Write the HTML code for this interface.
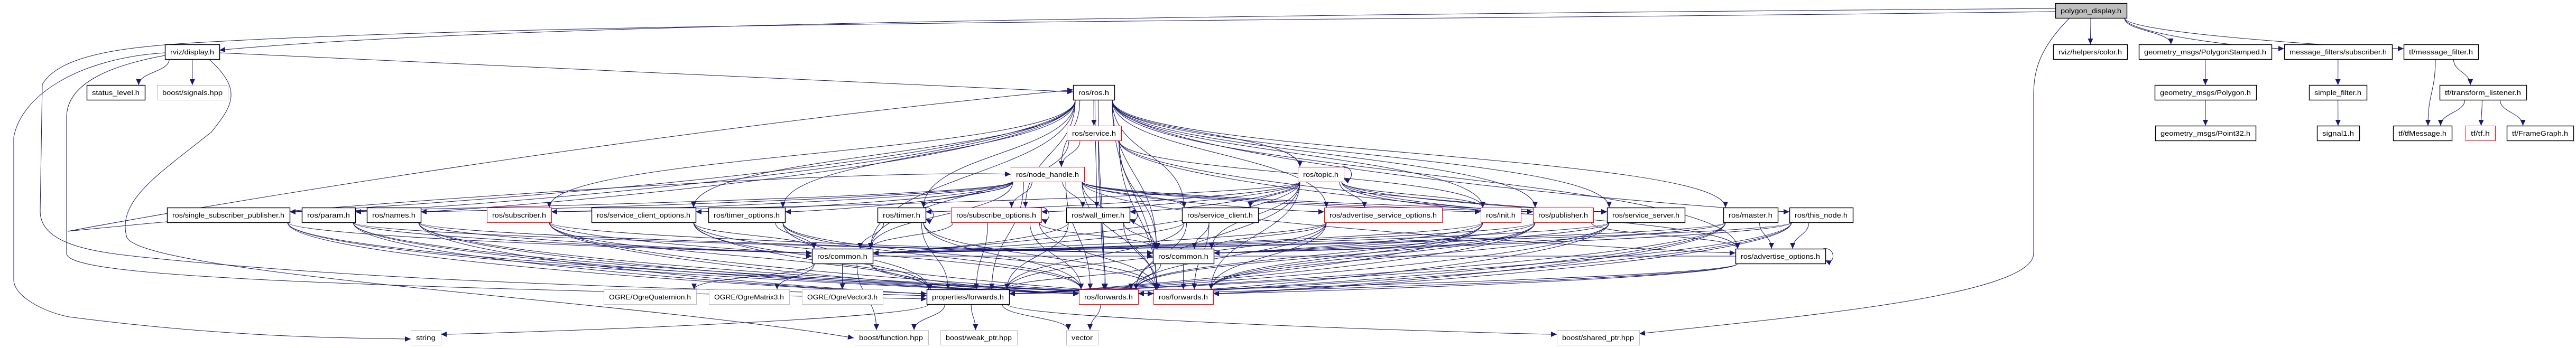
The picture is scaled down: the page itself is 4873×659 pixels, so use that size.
<!DOCTYPE html>
<html><head><meta charset="utf-8"><style>
html,body{margin:0;padding:0;background:#fff;}
svg{display:block;}
text{font-family:"Liberation Sans",sans-serif;font-size:13px;fill:#000;}
</style></head><body>
<svg id="g" xmlns="http://www.w3.org/2000/svg" width="4873" height="659" viewBox="0 0 4873 659">
<defs><marker id="a" markerWidth="12" markerHeight="10" refX="11" refY="5" orient="auto" markerUnits="userSpaceOnUse"><path d="M0,0 L11,5 L0,10 z" fill="#191970"/></marker></defs>
<g id="e" fill="none" stroke="#191970" stroke-width="1"></g>
<g id="n"></g>
</svg>
<script>
var R={A:6,B:84,C:161,D:238,E:316,F:393,G:471,H:548,I:625},H=28;
var N={
pd:['polygon_display.h',3888,4023,'A','g'],
disp:['rviz/display.h',312,415,'B','b'],
color:['rviz/helpers/color.h',3884,4024,'B','b'],
pstamp:['geometry_msgs/PolygonStamped.h',4046,4297,'B','b'],
mfsub:['message_filters/subscriber.h',4321,4525,'B','b'],
tfmf:['tf/message_filter.h',4547,4688,'B','b'],
status:['status_level.h',164,274,'C','b'],
signals:['boost/signals.hpp',297,431,'C','l'],
ros:['ros/ros.h',2030,2108,'C','b'],
poly:['geometry_msgs/Polygon.h',4076,4268,'C','b'],
sfilt:['simple_filter.h',4368,4477,'C','b'],
tl:['tf/transform_listener.h',4615,4779,'C','b'],
service:['ros/service.h',2018,2121,'D','r'],
pt32:['geometry_msgs/Point32.h',4077,4267,'D','b'],
sig1:['signal1.h',4383,4463,'D','b'],
tfmsg:['tf/tfMessage.h',4527,4638,'D','b'],
tftf:['tf/tf.h',4664,4720,'D','r'],
fg:['tf/FrameGraph.h',4742,4868,'D','b'],
nh:['ros/node_handle.h',1912,2051,'E','r'],
topic:['ros/topic.h',2455,2542,'E','r'],
ssp:['ros/single_subscriber_publisher.h',316,548,'F','b'],
param:['ros/param.h',571,672,'F','b'],
names:['ros/names.h',694,796,'F','b'],
sub:['ros/subscriber.h',921,1043,'F','r'],
sco:['ros/service_client_options.h',1119,1316,'F','b'],
to:['ros/timer_options.h',1340,1485,'F','b'],
timer:['ros/timer.h',1660,1751,'F','b'],
so:['ros/subscribe_options.h',1799,1970,'F','r'],
wt:['ros/wall_timer.h',2017,2137,'F','b'],
sc:['ros/service_client.h',2236,2380,'F','b'],
aso:['ros/advertise_service_options.h',2505,2728,'F','r'],
init:['ros/init.h',2801,2877,'F','r'],
pub:['ros/publisher.h',2900,3014,'F','r'],
ss:['ros/service_server.h',3040,3187,'F','b'],
master:['ros/master.h',3260,3363,'F','b'],
tn:['ros/this_node.h',3385,3505,'F','b'],
c1:['ros/common.h',1536,1651,'G','b'],
c2:['ros/common.h',2181,2296,'G','b'],
ao:['ros/advertise_options.h',3283,3453,'G','b'],
ogq:['OGRE/OgreQuaternion.h',1142,1317,'H','l'],
ogm:['OGRE/OgreMatrix3.h',1341,1493,'H','l'],
ogv:['OGRE/OgreVector3.h',1517,1670,'H','l'],
pf:['properties/forwards.h',1753,1909,'H','b'],
fw1:['ros/forwards.h',2041,2153,'H','r'],
fw2:['ros/forwards.h',2182,2295,'H','r'],
string:['string',777,834,'I','l'],
bfunc:['boost/function.hpp',1615,1756,'I','l'],
bweak:['boost/weak_ptr.hpp',1779,1924,'I','l'],
vector:['vector',2017,2077,'I','l'],
bshared:['boost/shared_ptr.hpp',2945,3101,'I','l']
};
var E={
pd:['color','pstamp','mfsub','tfmf'],
tfmf:['tfmsg','tl'],tl:['tfmsg','tftf','fg'],pstamp:['poly'],poly:['pt32'],mfsub:['sfilt'],sfilt:['sig1'],
disp:['status','signals'],
ros:['service','nh','topic','ssp','param','names','sub','timer','wt','sc','init','pub','ss','master','tn','c1','c2','fw1','fw2','ao','aso','so','sco','to'],
service:['nh','c2','fw1','fw2','pub','init','ss','c1'],
nh:['sub','sco','to','timer','so','wt','sc','aso','init','pub','ss','ao','c1','c2','fw1','fw2','pf','ssp','names'],
topic:['sub','timer','so','sc','init','pub','ss','ao','c1','c2','fw1','fw2','wt','aso'],
ssp:['c1','fw1','fw2','pf'],param:['c1','fw1','fw2','pf','c2'],names:['c1','fw1','fw2','pf','c2'],
sub:['c1','fw1','fw2','pf','c2'],sco:['c1','fw1','fw2','pf'],to:['c1','fw1','fw2','pf'],
timer:['c1','fw1','fw2','pf'],so:['c1','fw1','fw2','pf','c2'],wt:['c1','c2','fw1','fw2','pf'],
sc:['c1','c2','fw1','fw2','pf'],aso:['c1','c2','fw1','fw2','pf'],init:['c1','c2','fw1','fw2','pf'],
pub:['c1','c2','fw1','fw2','pf','ao'],ss:['c1','c2','fw1','fw2','pf'],master:['c1','c2','fw1','fw2','pf','ao'],
tn:['c1','c2','fw1','fw2','pf','ao'],ao:['c1','c2','fw1','fw2','pf'],
c1:['ogq','ogm','ogv','pf','bfunc','fw1'],c2:['fw1','fw2','pf'],
pf:['bfunc','bweak','bshared','string','vector'],fw1:['vector']
};
var eg=document.getElementById('e'),ng=document.getElementById('n'),NS='http://www.w3.org/2000/svg';
function P(d){var p=document.createElementNS(NS,'path');p.setAttribute('d',d);p.setAttribute('marker-end','url(#a)');eg.appendChild(p);}
function cl(v,a,b){return Math.max(a,Math.min(b,v));}
for(var s in E){E[s].forEach(function(t){
 var a=N[s],b=N[t];var sy=R[a[3]]+H,ty=R[b[3]];
 var scx=(a[1]+a[2])/2,tcx=(b[1]+b[2])/2;
 var sx=scx+cl((tcx-scx)*0.3,-(a[2]-a[1])/2+4,(a[2]-a[1])/2-4);
 var tx=tcx+cl((scx-tcx)*0.3,-(b[2]-b[1])/2+4,(b[2]-b[1])/2-4);
 var dy=ty-sy;
 if(dy<=0){P('M'+a[2]+','+(R[a[3]]+14)+' C'+(a[2]+40)+','+(R[a[3]]+14)+' '+(b[1]-40)+','+(R[b[3]]+14)+' '+b[1]+','+(R[b[3]]+14));return;}
 var dx=Math.abs(tx-sx);
 if(dx>6*dy){ // enter side
   var ex=tx<sx?b[2]:b[1],ey=ty+8;
   P('M'+sx+','+sy+' C'+sx+','+(sy+dy*0.6)+' '+(ex+(sx>ex?60:-60))+','+ey+' '+ex+','+ey);
 } else P('M'+sx+','+sy+' C'+sx+','+(sy+dy*0.5)+' '+tx+','+(ty-dy*0.5)+' '+tx+','+ty);
});}
// custom long edges
P('M3888,16 C2000,30 900,50 415,95');
P('M3888,22 C2500,40 1200,40 480,75 C300,84 120,90 80,160 L76,400 C76,470 200,480 300,490 C800,540 1400,548 1753,560');
P('M312,100 C150,110 40,180 26,260 L26,530 C26,560 80,590 130,600 C400,635 600,640 777,642');
P('M312,105 C230,120 128,150 126,220 L126,480 C126,520 500,540 1753,566');
P('M395,112 C460,170 440,200 400,250 C300,330 220,380 240,450 C280,520 1200,570 1615,640');
P('M415,100 C1200,140 1800,160 2030,174');
P('M3915,34 C3860,90 3847,130 3847,180 L3847,480 C3847,560 3400,600 3101,632');
P('M128,438 C700,380 1600,320 1912,330');
P('M128,438 C600,350 1400,230 2030,170');
// self loops
[['topic'],['timer'],['wt'],['so'],['ao']].forEach(function(k){var a=N[k[0]],y=R[a[3]];P('M'+(a[2]-4)+','+y+' C'+(a[2]+20)+','+(y-4)+' '+(a[2]+20)+','+(y+H+4)+' '+a[2]+','+(y+H-6));});
for(var k in N){var a=N[k],x=a[1],w=a[2]-a[1],y=R[a[3]];
 var r=document.createElementNS(NS,'rect');r.setAttribute('x',x+0.5);r.setAttribute('y',y+0.5);r.setAttribute('width',w);r.setAttribute('height',H);
 var st=a[4];r.setAttribute('fill',st=='g'?'#bfbfbf':'#fff');
 r.setAttribute('stroke',st=='r'?'#ff0000':st=='l'?'#bfbfbf':'#000');r.setAttribute('stroke-width',st=='b'||st=='g'?1.4:1);
 ng.appendChild(r);
 var t=document.createElementNS(NS,'text');t.setAttribute('x',x+w/2);t.setAttribute('y',y+19);t.setAttribute('text-anchor','middle');
 t.setAttribute('textLength',Math.max(10,w-20));t.setAttribute('lengthAdjust','spacingAndGlyphs');t.textContent=a[0];ng.appendChild(t);}
</script>
</body></html>
